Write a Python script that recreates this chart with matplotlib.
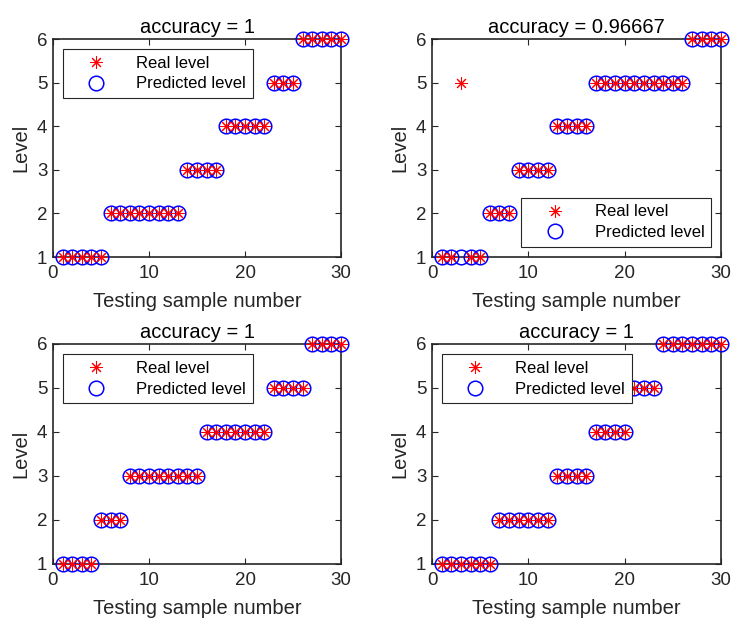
import numpy as np
import matplotlib.pyplot as plt

plt.rcParams['font.family'] = ['Liberation Sans', 'DejaVu Sans']

samples = np.arange(1, 31)

# real / predicted levels for the four test runs
real_1 = [1]*5 + [2]*8 + [3]*4 + [4]*5 + [5]*3 + [6]*5
pred_1 = list(real_1)

real_2 = [1, 1, 5, 1, 1] + [2]*3 + [3]*4 + [4]*4 + [5]*10 + [6]*4
pred_2 = [1]*5 + [2]*3 + [3]*4 + [4]*4 + [5]*10 + [6]*4

real_3 = [1]*4 + [2]*3 + [3]*8 + [4]*7 + [5]*4 + [6]*4
pred_3 = list(real_3)

real_4 = [1]*6 + [2]*6 + [3]*4 + [4]*4 + [5]*3 + [6]*7
pred_4 = list(real_4)

titles = ['accuracy = 1', 'accuracy = 0.96667', 'accuracy = 1', 'accuracy = 1']
legend_loc = ['upper left', 'lower right', 'upper left', 'upper left']

fig = plt.figure(figsize=(7.32, 6.19), dpi=100)
W, H = 732, 619
boxes = [(53, 39, 341, 257), (432, 39, 721, 257),
         (53, 344, 341, 564), (432, 344, 721, 564)]

data = [(real_1, pred_1), (real_2, pred_2), (real_3, pred_3), (real_4, pred_4)]
ink = '#262626'

for k, (x0, y0, x1, y1) in enumerate(boxes):
    ax = fig.add_axes([x0 / W, 1 - y1 / H, (x1 - x0) / W, (y1 - y0) / H])
    real, pred = data[k]
    ax.plot(samples, real, linestyle='none', marker=(8, 2, 0), color='red',
            markersize=9, markeredgewidth=0.75, label='Real level', clip_on=False, zorder=4)
    ax.plot(samples, pred, linestyle='none', marker='o', markerfacecolor='none',
            markeredgecolor='blue', markersize=10.5, markeredgewidth=1.1,
            label='Predicted level', clip_on=False, zorder=3)
    ax.set_xlim(0, 30)
    ax.set_ylim(1, 6)
    ax.set_xticks([0, 10, 20, 30])
    ax.set_yticks([1, 2, 3, 4, 5, 6])
    ax.tick_params(direction='in', top=True, right=True, labelsize=13.5,
                   colors=ink, length=4, width=0.8)
    ax.tick_params(axis='x', pad=6)
    ax.tick_params(axis='y', pad=4)
    for s in ax.spines.values():
        s.set_color(ink)
        s.set_linewidth(1.2)
    ax.set_title(titles[k], fontsize=14.5, color='black', pad=4)
    ax.set_xlabel('Testing sample number', fontsize=14.5, color=ink, labelpad=7)
    ax.set_ylabel('Level', fontsize=14.5, color=ink, labelpad=5)
    leg = ax.legend(loc=legend_loc[k], fontsize=12, fancybox=False,
                    edgecolor=ink, framealpha=1, handlelength=3.2, handletextpad=0.8,
                    borderaxespad=0.6, borderpad=0.4, labelspacing=0.35)
    leg.get_frame().set_linewidth(0.8)

fig.savefig('out.png', dpi=100)
